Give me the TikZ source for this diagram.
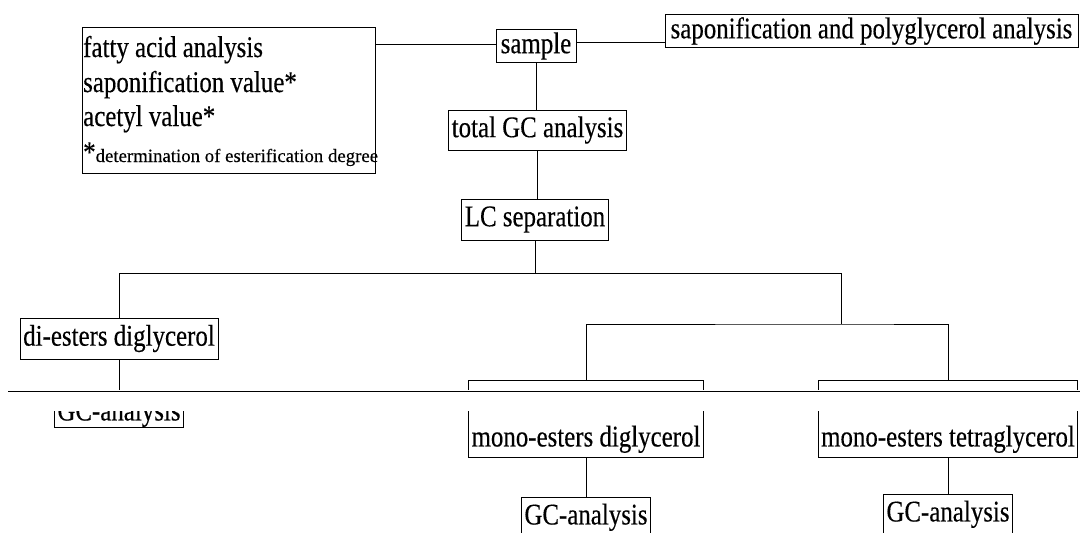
\documentclass[tikz,border=0pt]{standalone}
\usepackage{fontspec}
\setmainfont{Liberation Serif}[FakeStretch=0.83,FakeBold=0.3]
\newfontfamily\notefam{Liberation Serif}[FakeBold=0.3]
\newcommand\diagfont{\fontsize{30}{34}\selectfont}
\newcommand\notefont{\notefam\fontsize{18.8}{22}\selectfont}
\begin{document}
\begin{tikzpicture}[x=1pt,y=-1pt,
  box/.style={draw, line width=0.9pt, inner sep=3pt, font=\diagfont},
  txt/.style={inner sep=0pt, font=\diagfont},
  conn/.style={line width=0.8pt}]
\useasboundingbox (0,0) rectangle (1080,533);
\clip (0,0) rectangle (1080,533);
\fill[white] (0,0) rectangle (1080,533);

% top-left box
\node[box, minimum width=293pt, minimum height=146pt] (props) at (228.5,100) {};
\node[txt, anchor=base west] (t1) at (83,57) {fatty acid analysis};
\node[txt, anchor=base west] (t2) at (83,92) {saponification value*};
\node[txt, anchor=base west] (t3) at (83,126) {acetyl value*};
\node[txt, anchor=base west] (t4) at (83,162) {*{\notefont determination of esterification degree}};

\node[box, minimum width=80pt, minimum height=32pt] (sample) at (536,46) {sample};
\node[box, minimum width=413pt, minimum height=33pt] (sapon) at (871.5,31) {saponification and polyglycerol analysis};
\node[box, minimum width=175pt, minimum height=40pt] (totalgc) at (537.5,130) {total GC analysis};
\node[box, minimum width=146pt, minimum height=41pt] (lc) at (535,219.5) {LC separation};
\node[box, minimum width=198pt, minimum height=41pt] (diest) at (119,338.5) {di-esters diglycerol};

\node[box, anchor=north, minimum width=234pt, text height=63pt, text depth=8pt] (monodi) at (586,380) {mono-esters diglycerol};
\node[box, anchor=north, minimum width=256pt, text height=63pt, text depth=8pt] (monotetra) at (948,380) {mono-esters tetraglycerol};

\node[box, anchor=north, minimum width=126pt, text height=24pt, text depth=20pt] (gc1) at (586,497) {GC-analysis};
\node[box, anchor=north, minimum width=128pt, text height=24pt, text depth=20pt] (gc2) at (948,494) {GC-analysis};
\node[box, anchor=north, minimum width=128pt, text height=21pt, text depth=4pt] (lgc) at (119,396) {GC-analysis};

% connectors
\coordinate (sw) at ([yshift=2pt]sample.west);
\coordinate (se) at ([yshift=4pt]sample.east);
\draw[conn] (props.east |- sw) -- (sw);
\draw[conn] (se) -- (se -| sapon.west);
\draw[conn] (sample.south) -- (sample.south |- totalgc.north);
\draw[conn] (totalgc.south) -- (totalgc.south |- lc.north);
\coordinate (b1) at (841,273);
\coordinate (b2) at (841,324);
\draw[conn] (lc.south) -- (lc.south |- b1);
\draw[conn] (diest.north) |- (b1) -- (b2);
\draw[conn] (monodi.north) |- (b2) -| (monotetra.north);
\draw[conn] (diest.south) -- (lgc.north);
\draw[conn] (monodi.south) -- (gc1.north);
\draw[conn] (monotetra.south) -- (gc2.north);

% scan seam
\fill[white] (0,389.5) rectangle (1080,410.5);
\coordinate (seamL) at (8,391);
\coordinate (seamR) at (1080,391);
\draw[line width=0.9pt] (seamL) -- (seamR);
\end{tikzpicture}
\end{document}
